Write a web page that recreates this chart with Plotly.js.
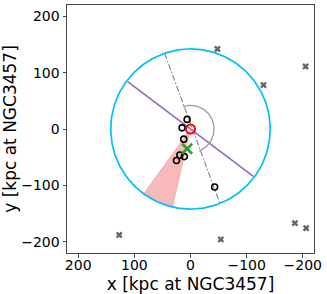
<!DOCTYPE html>
<html><head><meta charset="utf-8">
<script src="https://cdn.plot.ly/plotly-3.0.1.min.js"></script>
<style>html,body{margin:0;padding:0;background:#fff}#c{width:327px;height:294px}</style>
</head><body><div id="c"></div>
<script>
// Satellite / member galaxies (open black circles)
const memberX = [6, 15, 12, 19, 11, 25, -43];
const memberY = [17, 2, -18, -46, -49, -56, -103];
// Background objects (gray crosses)
const bgX = [-48, -130, -205, -186, -206, -54, 127];
const bgY = [142, 78, 111, -167, -176, -196, -188];
// Host centre and offset centroid
const hostX = [0], hostY = [0];
const centroidX = [6], centroidY = [-35];
// Geometry parameters
const outerRadius = [142];
const majorAxisX = [112, -112], majorAxisY = [84, -84];
const paLineX = [46, -52], paLineY = [134, -131];
const arcRadius = [42], arcAngles = [71, 249];
const wedgeAngles = [-77, -54];

function arcPts(r, a0, a1, n){
  const xs=[], ys=[];
  for(let i=0;i<=n;i++){const a=(a0+(a1-a0)*i/n)*Math.PI/180; xs.push(r*Math.cos(a)); ys.push(r*Math.sin(a));}
  return [xs,ys];
}
const circ = arcPts(outerRadius[0], 0, 360, 200);
const arc = arcPts(arcRadius[0], arcAngles[0], arcAngles[1], 60);
const wArc = arcPts(outerRadius[0], wedgeAngles[0], wedgeAngles[1], 30);
const wedgeX = [0].concat(wArc[0], [0]);
const wedgeY = [0].concat(wArc[1], [0]);

const traces = [
  {x: wedgeX, y: wedgeY, mode:'lines', fill:'toself', fillcolor:'rgba(240,128,128,0.55)',
   line:{color:'rgba(240,128,128,0.7)', width:0.6}, hoverinfo:'skip'},
  {x: circ[0], y: circ[1], mode:'lines', line:{color:'#00bfff', width:1.7}},
  {x: paLineX, y: paLineY, mode:'lines', line:{color:'#808080', width:1.1, dash:'6px,2px,1.5px,2px'}},
  {x: majorAxisX, y: majorAxisY, mode:'lines', line:{color:'#9467bd', width:1.6}},
  {x: arc[0], y: arc[1], mode:'lines', line:{color:'#a0a0a0', width:1.4}},
  {x: bgX, y: bgY, mode:'markers', marker:{symbol:'x', size:6, color:'#666666', line:{width:0}}},
  {x: memberX, y: memberY, mode:'markers', marker:{symbol:'circle-open', size:6, color:'#000', line:{width:1.6, color:'#000'}}},
  {x: hostX, y: hostY, mode:'markers', marker:{symbol:'circle-open', size:9, color:'#ff0000', line:{width:2, color:'#ff0000'}}},
  {x: centroidX, y: centroidY, mode:'markers', marker:{symbol:'x-thin-open', size:10, color:'#2ca02c', line:{width:2.6, color:'#2ca02c'}}}
];

const axisCommon = {
  showgrid:false, zeroline:false, showline:true, mirror:true, linecolor:'#444', linewidth:1,
  ticks:'outside', ticklen:3.5, tickcolor:'#444', tickwidth:1,
  tickfont:{family:'DejaVu Sans', size:14, color:'#000'},
  tickvals:[-200,-100,0,100,200]
};
const layout = {
  width:327, height:294, showlegend:false,
  paper_bgcolor:'#fff', plot_bgcolor:'#fff',
  margin:{l:67, r:13, t:5, b:41},
  xaxis: Object.assign({}, axisCommon, {range:[220,-220],
    tickvals:[200,100,0,-100,-200], ticklabelstandoff:-4,
    title:{text:'x [kpc at NGC3457]', font:{family:'DejaVu Sans', size:17, color:'#000'}}}),
  yaxis: Object.assign({}, axisCommon, {range:[-220,220],
    title:{text:'y [kpc at NGC3457]', font:{family:'DejaVu Sans', size:17, color:'#000'}}})
};
Plotly.newPlot('c', traces, layout, {displayModeBar:false, staticPlot:true});
</script></body></html>
